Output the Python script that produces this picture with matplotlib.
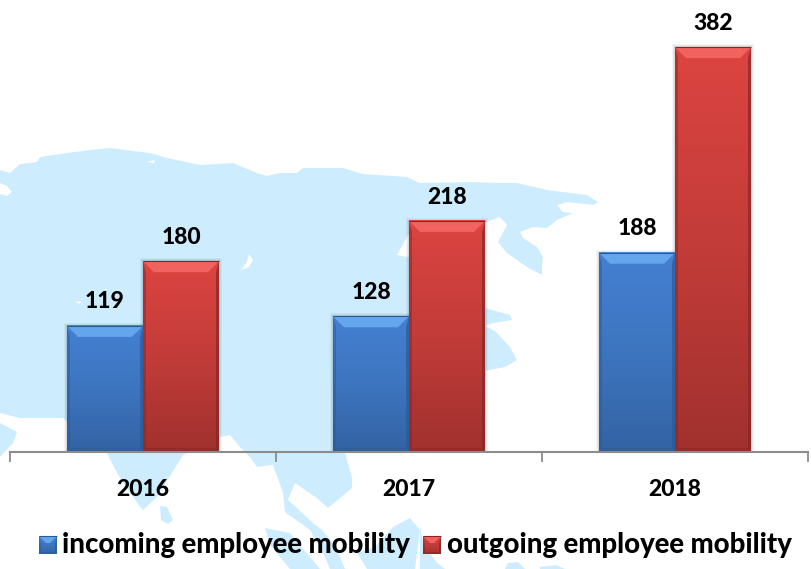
import numpy as np
import matplotlib
matplotlib.use('Agg')
import matplotlib.pyplot as plt
from matplotlib.patches import Polygon
from matplotlib.colors import LinearSegmentedColormap

plt.rcParams['font.family'] = ['Lato', 'DejaVu Sans']

years = ['2016', '2017', '2018']
incoming = [119, 128, 188]
outgoing = [180, 218, 382]
series_names = ['incoming employee mobility', 'outgoing employee mobility']

# upper face, mid face, lower face, bevel top, bevel bottom, side
blue = ['#4480D2', '#3D75BF', '#3363A4', '#64A6EC', '#2F5F9C', '#2C5A96']
red = ['#DC4441', '#C23C39', '#A1312E', '#F2635F', '#932B29', '#842725']

land_color = '#CDEDFF'
main_land = [(0, 170), (10, 173), (20, 164), (37, 162), (40, 157), (67, 153), (90, 150), (110, 148),
             (150, 153), (167, 158), (200, 165), (233, 163), (257, 173), (267, 176), (280, 173),
             (297, 173), (303, 168), (343, 168), (363, 174), (407, 177), (420, 183), (470, 182),
             (497, 183), (517, 183), (547, 190), (587, 195), (598, 202), (593, 205), (567, 202),
             (557, 205), (563, 212), (573, 213), (557, 220), (547, 228), (533, 227), (520, 232),
             (523, 238), (537, 247), (543, 257), (542, 267), (542, 275), (527, 267), (507, 253),
             (498, 242), (507, 225), (500, 217), (487, 222), (445, 228), (408, 235), (397, 255),
             (408, 257), (470, 300), (485, 308), (510, 315), (512, 320), (493, 323), (485, 326),
             (495, 331), (510, 347), (517, 360), (505, 367), (485, 371), (420, 430), (345, 453),
             (352, 478), (352, 488), (328, 508), (317, 498), (295, 483), (288, 500), (313, 523),
             (322, 530), (335, 545), (345, 569), (330, 569), (323, 553), (310, 530), (285, 512),
             (283, 493), (273, 465), (257, 467), (250, 457), (240, 447), (230, 435), (220, 437),
             (183, 455), (157, 497), (143, 510), (140, 507), (117, 473), (107, 453), (63, 418),
             (20, 418), (0, 413)]
arabia = [(0, 423), (17, 432), (13, 443), (0, 457)]
sri_lanka = [(160, 506), (167, 507), (173, 520), (168, 524), (161, 520)]
sumatra = [(265, 528), (290, 533), (310, 557), (320, 569), (290, 569), (270, 545)]
borneo = [(357, 553), (375, 547), (393, 527), (410, 518), (420, 530), (415, 569), (367, 569)]
islands = [(420, 527), (424, 545), (437, 563), (445, 569), (420, 569)]
small_isle_1 = [(508, 563), (518, 562), (525, 569), (505, 569)]
small_isle_2 = [(540, 567), (556, 565), (565, 569), (540, 569)]
lakes = [[(0, 183), (7, 186), (12, 192), (7, 196), (0, 194)],
         [(147, 162), (155, 160), (154, 163)],
         [(241, 270), (247, 262), (249, 254), (253, 260), (249, 267)],
         [(75, 302), (81, 301), (80, 304)]]


def bevel_bar(ax, x0, y0, x1, y1, colors, sx, sy, top=11, side=3, bottom=4):
    # sx, sy: data units per pixel
    top_c, mid_c, bot_c, bev_top, bev_bot, side_c = colors
    cmap = LinearSegmentedColormap.from_list('f', [top_c, mid_c, bot_c])
    ax.imshow(np.linspace(0, 1, 64)[:, None], cmap=cmap, extent=(x0, x1, y0, y1),
              aspect='auto', origin='upper', zorder=3)
    t = top * sy
    tx = top * sx
    s = side * sx
    b = bottom * sy
    ax.add_patch(Polygon([(x0, y0), (x0 + s, y0 + b), (x0 + s, y1 - t), (x0, y1)], color=side_c,
                         alpha=0.5, lw=0, zorder=4))
    ax.add_patch(Polygon([(x1, y0), (x1 - s, y0 + b), (x1 - s, y1 - t), (x1, y1)], color=side_c,
                         alpha=0.7, lw=0, zorder=4))
    ax.add_patch(Polygon([(x0, y0), (x1, y0), (x1 - s, y0 + b), (x0 + s, y0 + b)], color=bev_bot,
                         lw=0, zorder=4))
    ax.add_patch(Polygon([(x0, y1), (x1, y1), (x1 - tx, y1 - t), (x0 + tx, y1 - t)], color=bev_top,
                         lw=0, zorder=4))
    ax.plot([x0, x1], [y1, y1], color=side_c, lw=0.8, zorder=5, solid_capstyle='butt')


fig = plt.figure(figsize=(8.12, 5.69), dpi=100)

# background map, in pixel coordinates
bg = fig.add_axes([0, 0, 1, 1], zorder=0)
bg.set_xlim(0, 812)
bg.set_ylim(569, 0)
bg.axis('off')
for shape in [main_land, arabia, sri_lanka, sumatra, borneo, islands, small_isle_1, small_isle_2]:
    bg.add_patch(Polygon(shape, color=land_color, lw=0))
for shape in lakes:
    bg.add_patch(Polygon(shape, color='white', lw=0))

# bars
ax = fig.add_axes([10 / 812, 117 / 569, 798 / 812, 452 / 569], zorder=1)
ax.patch.set_alpha(0)
ax.set_xlim(0, 3)
ax.set_ylim(0, 426.4)
sx = 3 / 798
sy = 426.4 / 452
width = 76 * sx
for i in range(len(years)):
    for j, (vals, colors) in enumerate([(incoming, blue), (outgoing, red)]):
        left = i + 0.5 - width + j * width
        # soft shadow
        for k, a in [(3, 0.04), (2, 0.05), (1, 0.07)]:
            ax.bar(left - k * sx, vals[i] + k * sy, width + 2 * k * sx, align='edge',
                   color='black', alpha=a, lw=0, zorder=2)
        bevel_bar(ax, left, 0, left + width, vals[i], colors, sx, sy)
        ax.annotate(str(vals[i]), (left + width / 2, vals[i]), xytext=(0, 12.5), textcoords='offset points',
                    ha='center', va='baseline', fontsize=16.5, fontweight='black', color='black', zorder=6)

for s in ['top', 'left', 'right']:
    ax.spines[s].set_visible(False)
ax.spines['bottom'].set_color('#8C8C8C')
ax.spines['bottom'].set_linewidth(1.5)
ax.spines['bottom'].set_zorder(5)
ax.set_yticks([])
ax.set_xticks([0, 1, 2, 3])
ax.set_xticklabels([])
ax.tick_params(axis='x', which='major', length=7, width=1.3, color='#8C8C8C')
ax.set_xticks([0.5, 1.5, 2.5], minor=True)
ax.set_xticklabels(years, minor=True, fontsize=16.5, fontweight='black', color='black')
ax.tick_params(axis='x', which='minor', length=0, pad=19.5)

# legend
legend_x = [(39, 57, 62), (423, 441, 447)]
for (x0, x1, xt), name, colors in zip(legend_x, series_names, [blue, red]):
    bevel_bar(bg, x0, 554, x1, 536, colors, 1, -1, top=7, side=2, bottom=2)
    bg.text(xt, 553, name, fontsize=19.8, fontweight='black', color='black', ha='left', va='baseline')
bg.set_xlim(0, 812)
bg.set_ylim(569, 0)

fig.savefig('out.png', dpi=100)
